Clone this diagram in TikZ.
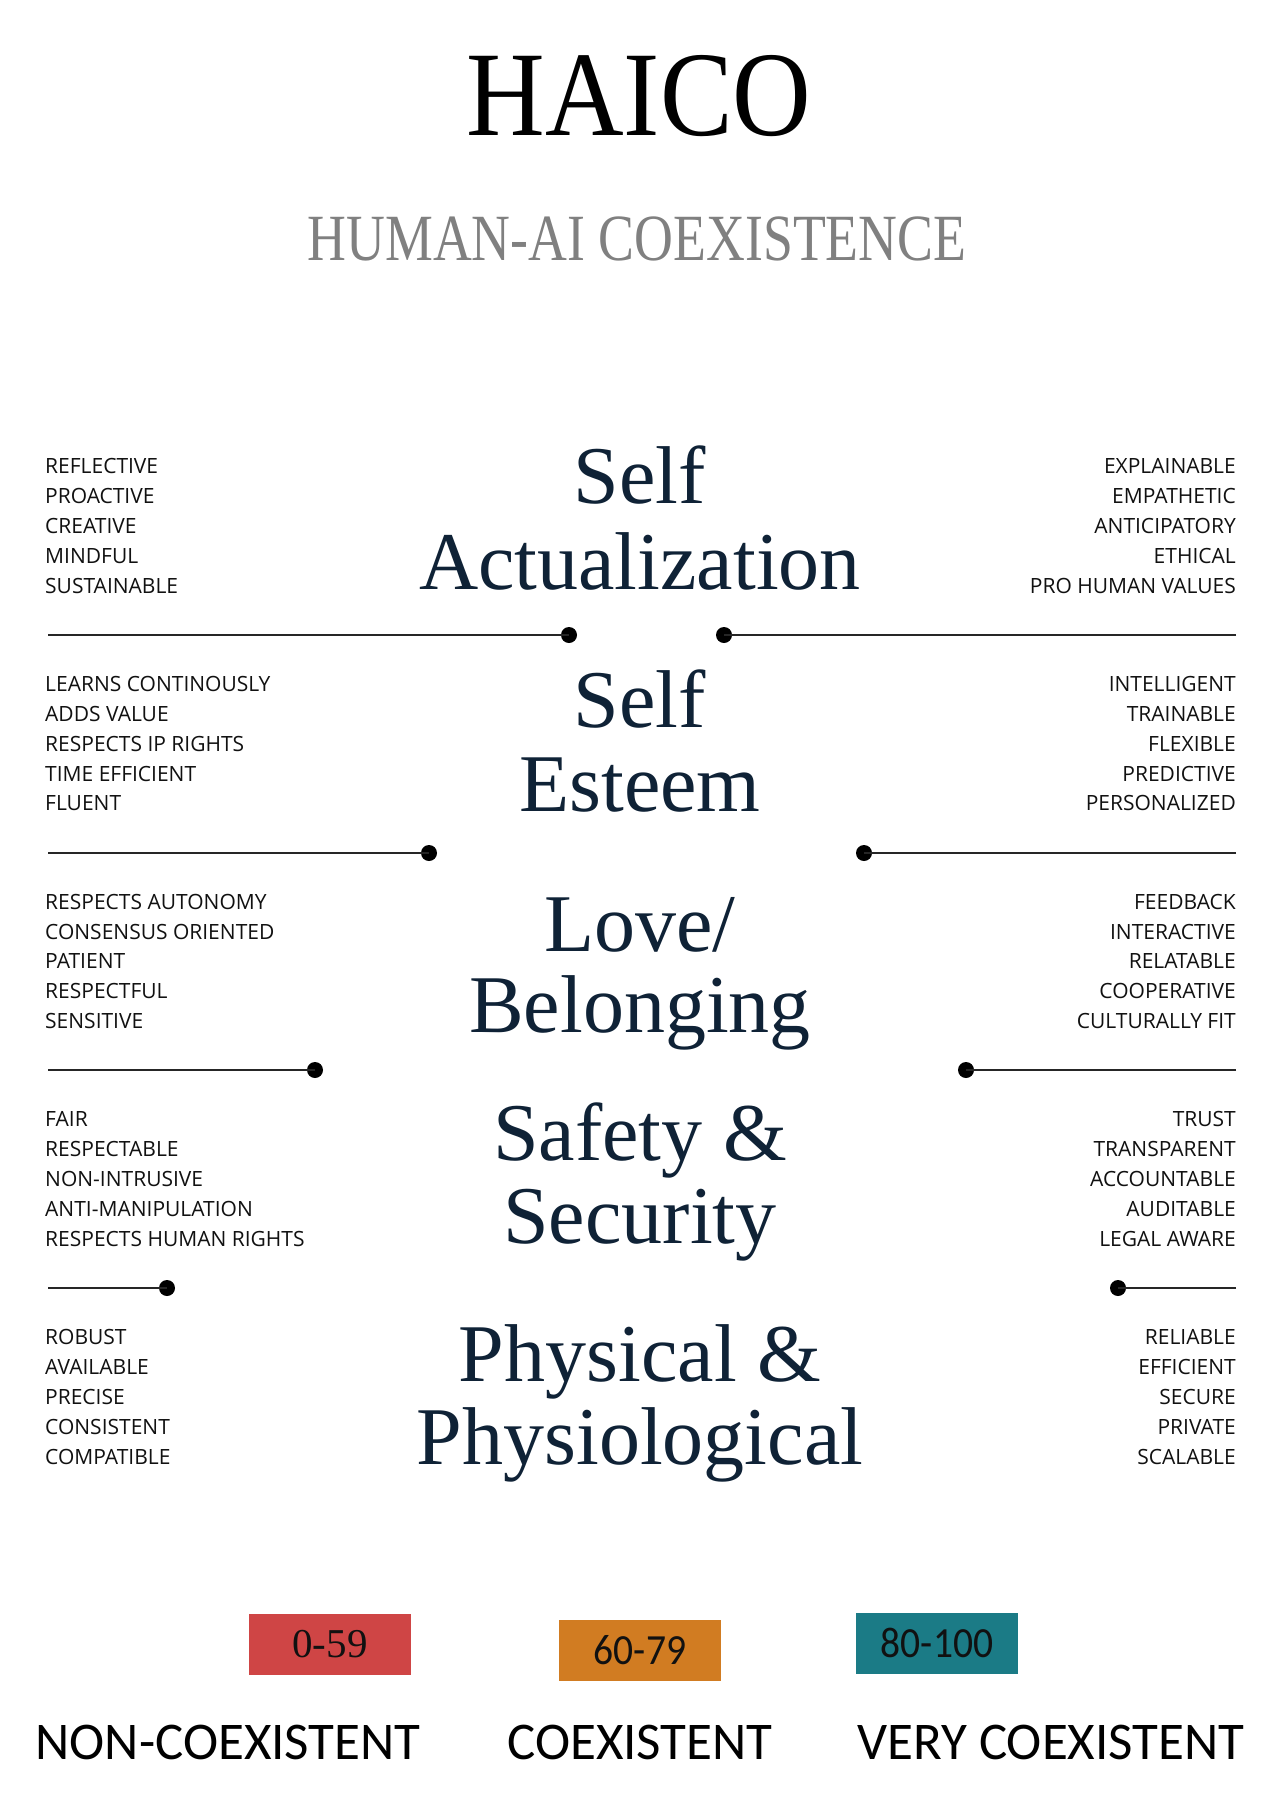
\documentclass[tikz,border=0pt]{standalone}
\usepackage{fontspec}
\setmainfont{Liberation Serif}
\newfontfamily\sidefont{Open Sans}
\newfontfamily\labfont{Carlito}
\definecolor{navy}{HTML}{0F2236}
\definecolor{subgray}{HTML}{808080}
\definecolor{boxred}{HTML}{CF4545}
\definecolor{boxorange}{HTML}{D17C22}
\definecolor{boxteal}{HTML}{1B7B86}
\definecolor{ink}{HTML}{111111}
\tikzset{
  head/.style={anchor=base, inner sep=0, text=navy, font=\fontsize{82}{82}\selectfont},
  lefttxt/.style={anchor=base west, inner sep=0, text=ink, font=\sidefont\fontsize{21}{21}\selectfont},
  righttxt/.style={anchor=base east, inner sep=0, text=ink, font=\sidefont\fontsize{21}{21}\selectfont},
  dotmark/.style={circle, fill=black, inner sep=0, minimum size=16},
  rule/.style={draw=black!85, line width=1.6},
  legbox/.style={minimum width=162, minimum height=61, inner sep=0, text=ink},
  leglab/.style={anchor=base, inner sep=0, text=black, font=\labfont\fontsize{53}{53}\selectfont}
}
\begin{document}
\begin{tikzpicture}[x=1pt,y=-1pt]
\useasboundingbox (0,0) rectangle (1280,1805);
\fill[white] (0,0) rectangle (1280,1805);

% title
\node[anchor=base, inner sep=0, text=black, font=\fontsize{121}{121}\selectfont] (title) at (639,135) {\scalebox{0.9}[1]{HAICO}};
\node[anchor=base, inner sep=0, text=subgray, font=\fontsize{66}{66}\selectfont] (subtitle) at (637,260) {\scalebox{0.815}[1]{HUMAN-AI COEXISTENCE}};

% headings
\node[head] (h1a) at (640,503) {Self};
\node[head] (h1b) at (640,589) {Actualization};
\node[head] (h2a) at (640,727) {Self};
\node[head] (h2b) at (640,811) {Esteem};
\node[head] (h3a) at (640,951) {Love/};
\node[head] (h3b) at (640,1032) {Belonging};
\node[head] (h4a) at (640,1160) {Safety \&};
\node[head] (h4b) at (640,1243) {Security};
\node[head] (h5a) at (640,1381) {Physical \&};
\node[head] (h5b) at (640,1464) {Physiological};

% separator lines with dots
\coordinate (s1l) at (48,635);  \node[dotmark] (d1l) at (569,635) {};
\coordinate (s1r) at (1236,635); \node[dotmark] (d1r) at (724,635) {};
\coordinate (s2l) at (48,853);  \node[dotmark] (d2l) at (429,853) {};
\coordinate (s2r) at (1236,853); \node[dotmark] (d2r) at (864,853) {};
\coordinate (s3l) at (48,1070); \node[dotmark] (d3l) at (315,1070) {};
\coordinate (s3r) at (1236,1070); \node[dotmark] (d3r) at (966,1070) {};
\coordinate (s4l) at (48,1288); \node[dotmark] (d4l) at (167,1288) {};
\coordinate (s4r) at (1236,1288); \node[dotmark] (d4r) at (1118,1288) {};
\foreach \k in {1,2,3,4}{
  \draw[rule] (s\k l) -- (d\k l.center);
  \draw[rule] (s\k r) -- (d\k r.center);
}

% side texts
\foreach \g/\lst in {0/{REFLECTIVE,PROACTIVE,CREATIVE,MINDFUL,SUSTAINABLE},
                     1/{LEARNS CONTINOUSLY,ADDS VALUE,RESPECTS IP RIGHTS,TIME EFFICIENT,FLUENT},
                     2/{RESPECTS AUTONOMY,CONSENSUS ORIENTED,PATIENT,RESPECTFUL,SENSITIVE},
                     3/{FAIR,RESPECTABLE,NON-INTRUSIVE,ANTI-MANIPULATION,RESPECTS HUMAN RIGHTS},
                     4/{ROBUST,AVAILABLE,PRECISE,CONSISTENT,COMPATIBLE}}{
  \foreach \t [count=\i from 0] in \lst {
    \node[lefttxt] (L\g-\i) at (45, 473.5+217.8*\g+29.9*\i) {\t};
  }
}
\foreach \g/\lst in {0/{EXPLAINABLE,EMPATHETIC,ANTICIPATORY,ETHICAL,PRO HUMAN VALUES},
                     1/{INTELLIGENT,TRAINABLE,FLEXIBLE,PREDICTIVE,PERSONALIZED},
                     2/{FEEDBACK,INTERACTIVE,RELATABLE,COOPERATIVE,CULTURALLY FIT},
                     3/{TRUST,TRANSPARENT,ACCOUNTABLE,AUDITABLE,LEGAL AWARE},
                     4/{RELIABLE,EFFICIENT,SECURE,PRIVATE,SCALABLE}}{
  \foreach \t [count=\i from 0] in \lst {
    \node[righttxt] (R\g-\i) at (1236, 473.5+217.8*\g+29.9*\i) {\t};
  }
}

% legend
\node[legbox, fill=boxred, font=\fontsize{41}{41}\selectfont] (b1) at (330,1644) {0-59};
\node[legbox, fill=boxorange, font=\labfont\fontsize{43}{43}\selectfont] (b2) at (640,1650) {\scalebox{0.92}[1]{60-79}};
\node[legbox, fill=boxteal, font=\labfont\fontsize{43}{43}\selectfont] (b3) at (937,1643) {\scalebox{0.92}[1]{80-100}};
\node[leglab] (l1) at (228,1759) {NON-COEXISTENT};
\node[leglab] (l2) at (640,1759) {COEXISTENT};
\node[leglab] (l3) at (1051,1759) {VERY COEXISTENT};
\end{tikzpicture}
\end{document}
